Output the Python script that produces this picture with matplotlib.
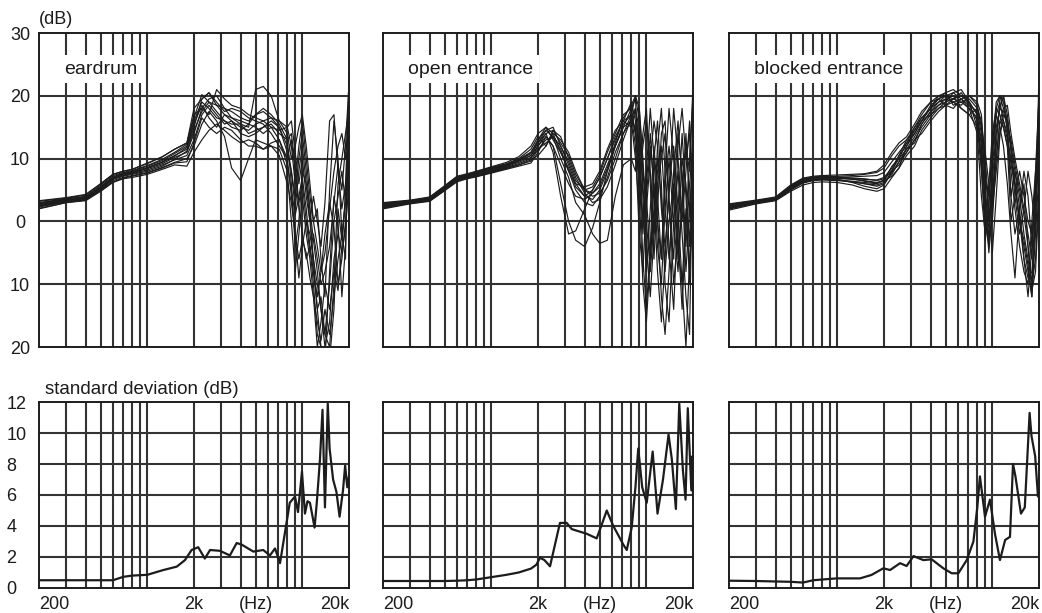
import matplotlib
matplotlib.use("Agg")
import matplotlib.pyplot as plt
from matplotlib.ticker import NullLocator

plt.rcParams["font.family"] = ["Liberation Sans", "DejaVu Sans"]

# frequency grid shared by the individual response curves (Hz)
FREQ_HZ = [200, 300, 400, 500, 600, 700, 800, 1000, 1250, 1500, 1800, 2000, 2250, 2500,
           2800, 3150, 3500, 4000, 4500, 5000, 5600, 6300, 7100, 8000, 8500, 9000, 9500,
           10000, 10600, 11200, 11800, 12500, 13200, 14000, 15000, 16000, 17000, 18000,
           19000, 20000]

# response level (dB), one list per subject
EARDRUM = [
    [2.0, 3.0, 3.3, 4.8, 6.2, 6.8, 7.0, 7.5, 8.3, 9.0, 8.8, 11.0, 13.0, 14.5, 15.5, 14.5, 13.5, 12.5, 13.0, 12.5, 11.5, 12.0, 10.5, 6.0, 3.0, -2.0, -6.0, -3.0, -5.0, -9.0, -12.0, -16.0, -19.0, -14.0, -18.0, -12.0, -6.0, -2.0, 3.0, 8.0],
    [2.5, 3.3, 3.6, 5.2, 6.8, 7.3, 7.6, 8.2, 9.0, 9.8, 10.5, 13.0, 17.0, 18.5, 17.0, 15.5, 16.0, 15.0, 14.5, 15.5, 16.0, 15.0, 13.0, 9.0, 5.0, 1.0, 4.0, 7.0, 2.0, -4.0, -8.0, -12.0, -8.0, -2.0, 3.0, -1.0, -10.0, -6.0, 0.0, 12.0],
    [2.8, 3.5, 3.8, 5.5, 7.0, 7.6, 7.9, 8.6, 9.5, 10.5, 11.5, 15.0, 19.5, 20.5, 19.0, 17.5, 18.0, 17.5, 16.5, 16.0, 15.5, 14.0, 12.0, 10.0, 13.0, 8.0, 2.0, -2.0, -6.0, -4.0, -10.0, -18.0, -20.0, -20.0, -22.0, -14.0, 2.0, -3.0, 4.0, 16.0],
    [3.0, 3.6, 4.0, 5.8, 7.3, 7.8, 8.1, 8.9, 9.9, 11.0, 12.3, 16.5, 20.2, 19.0, 18.5, 18.0, 17.5, 16.5, 16.0, 17.0, 17.5, 16.5, 15.0, 12.0, 8.0, 4.0, 10.0, 14.0, 8.0, 2.0, -3.0, -8.0, -14.0, -18.0, -10.0, 0.0, 4.0, 8.0, 3.0, 10.0],
    [3.2, 3.7, 4.2, 6.0, 7.5, 8.0, 8.3, 9.2, 10.3, 11.5, 12.5, 17.0, 18.0, 17.0, 21.0, 19.5, 18.5, 18.0, 17.0, 16.5, 16.0, 16.5, 16.0, 14.0, 10.0, 12.0, 15.0, 17.0, 12.0, 6.0, 0.0, -4.0, -8.0, -5.0, 2.0, 8.0, 12.0, 14.0, 10.0, 18.0],
    [2.3, 3.1, 3.4, 5.0, 6.5, 7.0, 7.3, 7.8, 8.6, 9.4, 10.0, 12.0, 15.5, 17.5, 16.0, 13.5, 8.5, 6.5, 10.0, 13.0, 12.5, 12.0, 11.5, 8.0, 0.0, -8.0, -2.0, 4.0, -2.0, -6.0, -12.0, -20.0, -16.0, -10.0, -14.0, -8.0, -11.0, -4.0, 4.0, 14.0],
    [2.7, 3.4, 3.7, 5.3, 6.9, 7.4, 7.7, 8.4, 9.2, 10.2, 11.0, 14.0, 18.0, 19.5, 20.0, 18.0, 16.5, 15.5, 15.0, 21.0, 21.5, 20.0, 16.0, 15.0, 16.0, 11.0, 6.0, 10.0, 4.0, 0.0, 4.0, 0.0, -4.0, 3.0, 16.0, 17.0, 8.0, 2.0, 6.0, 20.0],
    [2.1, 3.0, 3.4, 4.9, 6.3, 6.9, 7.2, 7.7, 8.5, 9.3, 9.5, 12.5, 16.5, 15.0, 14.0, 15.0, 14.5, 13.0, 12.0, 12.0, 11.5, 12.5, 13.0, 10.0, 4.0, -2.0, -9.0, -4.0, 0.0, -2.0, -6.0, -10.0, -14.0, -20.0, -16.0, -6.0, -2.0, -5.0, -1.0, 6.0],
    [2.9, 3.6, 3.9, 5.6, 7.1, 7.7, 8.0, 8.8, 9.7, 10.8, 12.0, 16.0, 19.0, 18.0, 16.5, 16.0, 15.5, 15.5, 14.0, 14.5, 15.0, 15.5, 14.0, 13.0, 14.0, 9.0, 3.0, 6.0, 0.0, -5.0, -2.0, -6.0, -10.0, -8.0, -4.0, 3.0, 9.0, 5.0, 12.0, 22.0],
    [3.3, 3.8, 4.3, 6.0, 7.5, 8.0, 8.3, 9.3, 10.3, 11.5, 12.5, 18.0, 19.5, 20.5, 18.5, 17.0, 16.5, 16.0, 15.5, 15.0, 14.0, 15.0, 14.5, 15.0, 12.0, 6.0, 12.0, 16.0, 10.0, 4.0, 0.0, 2.0, -6.0, -12.0, 5.0, 16.0, 10.0, -2.0, -6.0, 24.0],
    [2.4, 3.2, 3.5, 5.1, 6.7, 7.2, 7.5, 8.0, 8.8, 9.9, 11.2, 14.5, 17.5, 19.0, 17.5, 16.0, 15.0, 14.5, 15.5, 17.0, 18.0, 17.0, 15.5, 13.0, 6.0, -4.0, 0.0, 8.0, 6.0, 0.0, -6.0, -14.0, -20.0, -22.0, -8.0, 4.0, 0.0, -12.0, -4.0, 14.0],
    [2.6, 3.4, 3.7, 5.4, 6.9, 7.5, 7.8, 8.5, 9.4, 10.4, 11.8, 15.5, 18.5, 16.5, 15.0, 17.0, 16.0, 14.0, 13.5, 14.0, 15.0, 16.0, 15.0, 11.0, 8.0, 2.0, 8.0, 12.0, 6.0, 2.0, -8.0, -14.0, -12.0, -18.0, -20.0, -10.0, 6.0, 10.0, 14.0, 18.0],
]

OPEN_ENTRANCE = [
    [2.0, 2.8, 3.2, 4.9, 6.3, 6.8, 7.1, 7.7, 8.3, 8.8, 9.3, 11.0, 13.5, 12.0, 6.0, 0.0, -3.0, -4.0, -1.0, 3.0, 8.0, 12.0, 15.0, 16.0, 10.0, 2.0, 8.0, 4.0, -6.0, 2.0, 10.0, 4.0, -8.0, 0.0, 6.0, -4.0, -10.0, 2.0, -8.0, 6.0],
    [2.3, 3.0, 3.4, 5.1, 6.6, 7.0, 7.3, 7.9, 8.6, 9.2, 10.0, 12.0, 14.0, 11.0, 4.0, -2.0, -1.5, 2.0, 5.0, 7.0, 10.0, 13.0, 16.0, 17.0, 12.0, -2.0, -8.0, 4.0, 12.0, 6.0, -4.0, -10.0, 2.0, 10.0, 0.0, -8.0, 4.0, 14.0, 2.0, -6.0],
    [2.5, 3.1, 3.5, 5.3, 6.8, 7.2, 7.5, 8.1, 8.8, 9.6, 10.5, 12.5, 14.5, 13.5, 10.0, 7.0, 3.0, 1.0, -2.0, -3.5, -3.0, 4.0, 9.0, 10.0, 8.0, 14.0, 6.0, -4.0, -12.0, -2.0, 8.0, 12.0, 2.0, -6.0, 4.0, 14.0, 8.0, -4.0, 6.0, 12.0],
    [2.7, 3.2, 3.6, 5.5, 7.0, 7.3, 7.7, 8.4, 9.0, 9.8, 11.0, 13.0, 14.5, 15.0, 12.0, 9.0, 6.0, 4.0, 3.5, 5.0, 8.0, 12.0, 15.0, 18.0, 19.5, 8.0, -6.0, -14.0, -4.0, 10.0, 16.0, 6.0, -10.0, -16.0, 0.0, 8.0, -2.0, -12.0, -18.0, 14.0],
    [2.9, 3.3, 3.8, 5.6, 7.1, 7.5, 7.9, 8.6, 9.2, 10.0, 11.5, 13.5, 12.0, 14.0, 13.0, 11.0, 8.0, 5.0, 4.0, 4.5, 6.5, 10.0, 14.0, 17.0, 20.0, 16.0, 4.0, -8.0, 2.0, 12.0, 4.0, -6.0, 8.0, 18.0, 10.0, -2.0, -14.0, 0.0, 10.0, 20.0],
    [2.2, 2.9, 3.3, 5.0, 6.5, 6.9, 7.2, 7.8, 8.5, 9.0, 9.8, 10.5, 12.0, 14.5, 13.5, 10.0, 7.0, 4.5, 3.0, 3.5, 5.5, 9.0, 13.0, 16.5, 18.0, 12.0, 0.0, 6.0, 14.0, 4.0, -8.0, -16.0, -6.0, 6.0, 12.0, 2.0, -10.0, -20.0, -6.0, 4.0],
    [2.6, 3.1, 3.5, 5.4, 6.9, 7.2, 7.6, 8.2, 8.9, 9.6, 10.5, 12.0, 13.5, 12.0, 9.0, 6.0, 4.0, 3.5, 4.5, 6.0, 9.0, 12.0, 15.5, 17.0, 14.0, 6.0, 12.0, 16.0, 8.0, -2.0, 2.0, 14.0, 16.0, 4.0, -10.0, -2.0, 10.0, 6.0, -4.0, 18.0],
    [3.0, 3.4, 3.9, 5.7, 7.2, 7.6, 8.0, 8.7, 9.4, 10.3, 12.0, 14.0, 15.0, 13.0, 11.0, 8.5, 5.5, 4.0, 5.0, 7.0, 10.0, 13.5, 16.0, 15.0, 18.0, 10.0, -2.0, 8.0, 18.0, 10.0, 0.0, -6.0, 6.0, 12.0, 4.0, -6.0, 2.0, 12.0, 8.0, 22.0],
    [2.4, 3.0, 3.4, 5.2, 6.7, 7.1, 7.4, 8.0, 8.7, 9.4, 10.2, 11.5, 13.0, 13.5, 11.5, 8.0, 5.0, 3.0, 2.5, 4.0, 7.0, 11.0, 14.0, 16.0, 15.0, 4.0, -10.0, -16.0, -6.0, 6.0, 0.0, -12.0, -18.0, -8.0, 8.0, 16.0, 6.0, -8.0, 2.0, 10.0],
    [2.8, 3.3, 3.7, 5.5, 7.0, 7.4, 7.8, 8.5, 9.1, 9.9, 11.0, 12.5, 14.0, 14.5, 12.5, 10.5, 7.5, 5.0, 4.5, 5.5, 8.5, 12.5, 16.5, 18.5, 20.0, 18.0, 8.0, 2.0, 10.0, 16.0, 12.0, 2.0, -4.0, 4.0, 18.0, 10.0, 0.0, 8.0, 16.0, 4.0],
    [2.1, 2.9, 3.3, 5.0, 6.5, 6.9, 7.2, 7.8, 8.4, 9.0, 9.6, 11.5, 12.5, 13.5, 12.0, 9.5, 6.5, 5.0, 5.5, 7.5, 11.0, 14.0, 17.0, 18.0, 14.0, 18.0, 10.0, 0.0, -8.0, 0.0, 12.0, 18.0, 8.0, -4.0, -14.0, 2.0, 14.0, 4.0, -10.0, 10.0],
    [2.5, 3.2, 3.6, 5.3, 6.8, 7.3, 7.7, 8.3, 9.0, 9.7, 10.8, 13.0, 15.0, 14.0, 11.0, 8.0, 6.0, 5.5, 6.0, 8.0, 11.5, 14.5, 16.0, 19.0, 16.0, 6.0, 14.0, 18.0, 6.0, -6.0, 6.0, 10.0, 14.0, 2.0, -6.0, 12.0, 18.0, 10.0, 14.0, 0.0],
]

BLOCKED_ENTRANCE = [
    [1.8, 2.8, 3.3, 4.8, 5.8, 6.2, 6.3, 6.2, 5.8, 5.2, 4.8, 5.2, 7.0, 8.5, 10.5, 12.0, 14.5, 16.5, 18.0, 19.0, 19.5, 19.0, 18.0, 14.0, 4.0, -2.0, 6.0, 14.0, 18.0, 17.0, 15.0, 12.0, 8.0, 2.0, -4.0, -8.0, -10.0, 0.0, 8.0, 14.0],
    [2.0, 2.9, 3.4, 5.0, 6.1, 6.5, 6.6, 6.5, 6.3, 6.0, 5.8, 6.2, 7.5, 9.5, 11.5, 13.5, 15.5, 17.5, 19.0, 20.0, 20.5, 19.5, 18.5, 16.0, 10.0, 0.0, -4.0, 8.0, 17.0, 19.0, 16.0, 13.0, 10.0, 6.0, 0.0, -4.0, -8.0, -12.0, 2.0, 10.0],
    [2.2, 3.0, 3.5, 5.2, 6.3, 6.7, 6.8, 6.8, 6.8, 6.7, 6.6, 7.0, 8.5, 10.5, 12.0, 14.0, 16.0, 18.5, 19.5, 20.0, 19.5, 20.0, 19.0, 17.0, 12.0, 2.0, -1.0, 4.0, 12.0, 19.5, 20.0, 17.0, 12.0, 8.0, 4.0, -2.0, -6.0, -10.0, 4.0, 18.0],
    [2.4, 3.1, 3.6, 5.4, 6.5, 6.9, 7.0, 7.0, 7.1, 7.2, 7.3, 7.8, 9.5, 11.0, 12.5, 15.0, 17.0, 19.0, 19.5, 18.5, 19.5, 20.5, 18.5, 17.5, 14.0, 6.0, -3.0, 0.0, 10.0, 16.0, 18.0, 18.5, 14.0, 10.0, 6.0, 2.0, -2.0, -6.0, 8.0, 20.0],
    [2.6, 3.2, 3.7, 5.6, 6.7, 7.0, 7.1, 7.2, 7.3, 7.5, 7.8, 8.5, 10.5, 12.0, 13.0, 14.5, 16.0, 18.0, 20.0, 20.5, 18.5, 19.0, 19.5, 18.0, 16.0, 10.0, 2.0, -5.0, 4.0, 14.0, 17.0, 16.0, 4.0, 8.0, 2.0, -6.0, -12.0, -4.0, 6.0, 12.0],
    [2.7, 3.3, 3.8, 5.7, 6.8, 7.1, 7.2, 7.1, 6.9, 6.8, 6.5, 6.8, 8.0, 9.0, 11.0, 13.0, 15.0, 17.0, 18.5, 19.0, 20.5, 21.0, 19.0, 15.0, 8.0, 0.0, -2.0, 10.0, 18.0, 20.0, 19.0, 16.0, 11.0, 4.0, -2.0, 2.0, 8.0, 4.0, -2.0, 24.0],
    [2.1, 2.9, 3.4, 5.1, 6.2, 6.6, 6.7, 6.6, 6.4, 6.2, 6.0, 6.5, 8.8, 10.0, 11.5, 12.5, 15.5, 17.5, 18.5, 19.5, 20.0, 18.0, 17.0, 15.0, 11.0, 4.0, 0.0, 6.0, 15.0, 18.0, 20.0, 14.0, 9.0, 6.0, 0.0, -6.0, -9.0, -8.0, 0.0, 16.0],
    [2.5, 3.2, 3.6, 5.5, 6.6, 6.9, 7.0, 6.9, 6.7, 6.5, 6.2, 6.5, 7.2, 8.5, 12.0, 14.5, 16.5, 18.0, 19.0, 19.5, 19.0, 18.5, 20.0, 19.0, 17.0, 8.0, 1.0, 3.0, 10.0, 16.0, 15.0, 12.0, 0.0, 4.0, 8.0, 4.0, 0.0, -2.0, 4.0, 10.0],
    [2.3, 3.0, 3.5, 5.3, 6.4, 6.8, 6.9, 6.7, 6.2, 5.6, 5.2, 5.8, 7.8, 9.5, 11.0, 13.0, 14.0, 16.0, 17.5, 18.5, 19.0, 19.5, 18.0, 16.5, 13.0, 3.0, -5.0, 2.0, 14.0, 18.0, 17.5, 15.0, 13.0, 9.0, 5.0, 1.0, -4.0, -10.0, -6.0, 6.0],
    [2.8, 3.4, 3.9, 5.8, 6.9, 7.2, 7.3, 7.4, 7.5, 7.6, 8.0, 9.0, 11.0, 12.5, 13.5, 15.5, 17.5, 19.0, 20.0, 20.0, 19.0, 18.0, 17.0, 18.0, 15.0, 7.0, 4.0, 12.0, 19.0, 20.0, 18.0, 16.0, 12.0, 6.0, 0.0, -3.0, -7.0, -12.0, -2.0, 8.0],
    [2.0, 3.0, 3.4, 5.1, 6.2, 6.6, 6.7, 6.6, 6.3, 6.0, 5.6, 6.0, 8.0, 10.5, 13.0, 15.0, 16.5, 18.0, 19.5, 20.5, 21.0, 20.0, 19.0, 17.0, 9.0, -3.0, 2.0, 12.0, 17.0, 15.0, 12.0, 6.0, -2.0, -9.0, 2.0, 8.0, 4.0, -4.0, 6.0, 20.0],
    [2.4, 3.1, 3.6, 5.4, 6.5, 6.9, 7.1, 7.0, 6.8, 6.4, 6.1, 6.6, 8.2, 10.0, 12.5, 14.0, 16.0, 17.0, 18.0, 18.5, 18.0, 19.5, 20.0, 18.5, 15.0, 11.0, 6.0, 2.0, 8.0, 14.0, 16.0, 14.0, 4.0, -2.0, 2.0, 6.0, -4.0, -11.0, -8.0, 4.0],
]

# standard deviation across subjects (dB)
SD_EARDRUM_HZ = [200, 300, 400, 500, 600, 700, 800, 1000, 1260, 1550, 1750, 1930, 2130, 2350,
                 2540, 2940, 3410, 3770, 4060, 4830, 5600, 6180, 6670, 7180, 8300, 8970, 9380,
                 9950, 10400, 10800, 11200, 11700, 12000, 12400, 13000, 13500, 14000, 14600,
                 15000, 15800, 16600, 17400, 18300, 18900, 19500, 20000]
SD_EARDRUM = [0.5, 0.5, 0.5, 0.5, 0.5, 0.72, 0.8, 0.85, 1.15, 1.38, 1.8, 2.45, 2.63, 1.9,
              2.45, 2.4, 2.1, 2.9, 2.8, 2.35, 2.45, 2.1, 2.55, 1.6, 5.5, 5.9, 4.9,
              7.5, 4.8, 5.6, 5.5, 4.5, 3.9, 5.5, 8.3, 11.5, 5.2, 11.9,
              9.0, 7.0, 6.2, 4.6, 6.3, 7.9, 6.5, 7.2]

SD_OPEN_HZ = [200, 300, 400, 500, 600, 700, 800, 1000, 1250, 1500, 1800, 1950, 2060, 2200,
              2390, 2600, 2770, 3060, 3300, 3550, 4120, 4780, 5200, 5550, 6120, 7100, 7470,
              8040, 8500, 8860, 9400, 10050, 10980, 11800, 12800, 13900, 14600, 15500,
              16300, 17200, 17900, 18500, 19500, 19800, 20000]
SD_OPEN = [0.45, 0.45, 0.45, 0.45, 0.47, 0.5, 0.55, 0.7, 0.85, 1.0, 1.25, 1.5, 1.95, 1.8,
           1.4, 3.0, 4.2, 4.2, 3.8, 3.7, 3.5, 3.2, 4.2, 5.0, 4.0, 2.8, 2.45,
           3.9, 6.5, 9.0, 6.5, 5.5, 8.8, 4.8, 7.0, 9.9, 8.3, 5.1,
           11.9, 7.6, 5.7, 11.6, 6.3, 8.5, 6.0]

SD_BLOCKED_HZ = [200, 300, 400, 500, 600, 700, 990, 1400, 1660, 1980, 2190, 2540, 2800, 3100,
                 3590, 4060, 4830, 5470, 6040, 6840, 7550, 8000, 8320, 8970, 9660, 10400,
                 11200, 12100, 13000, 13600, 14100, 15300, 16200, 17400, 17900, 18900,
                 19700, 20000]
SD_BLOCKED = [0.47, 0.45, 0.42, 0.4, 0.35, 0.5, 0.62, 0.62, 0.84, 1.27, 1.16, 1.6, 1.42, 2.06,
              1.8, 1.85, 1.27, 0.95, 0.95, 1.8, 3.0, 5.2, 7.2, 4.6, 5.7, 3.5,
              1.8, 3.1, 3.3, 8.0, 7.2, 4.8, 5.2, 11.3, 9.8, 8.5,
              5.9, 6.0]

PANEL_TITLES = ["eardrum", "open entrance", "blocked entrance"]
GRID_HZ = [300, 400, 500, 600, 700, 800, 900, 1000,
           2000, 3000, 4000, 5000, 6000, 7000, 8000, 9000, 10000]
LEVEL_TICKS = [-20, -10, 0, 10, 20, 30]
LEVEL_LABELS = ["20", "10", "0", "10", "20", "30"]
SD_TICKS = [0, 2, 4, 6, 8, 10, 12]
FREQ_TICKS = [200, 2000, 5000, 20000]
FREQ_LABELS = ["200", "2k", "(Hz)", "20k"]

INK = "#1c1c1c"
GRID = "#333333"


def style_axes(ax, yticks):
    ax.set_xscale("log")
    ax.set_xlim(200, 20000)
    ax.xaxis.set_minor_locator(NullLocator())
    ax.set_ylim(yticks[0], yticks[-1])
    ax.set_yticks(yticks)
    for f in GRID_HZ:
        ax.axvline(f, color=GRID, lw=1.5, zorder=1)
    for y in yticks[1:-1]:
        ax.axhline(y, color=GRID, lw=1.5, zorder=1)
    for sp in ax.spines.values():
        sp.set_color(INK)
        sp.set_linewidth(1.4)
    ax.tick_params(length=0, labelsize=13, colors=INK)


def main():
    fig = plt.figure(figsize=(10.42, 6.13), dpi=100)
    lefts = [0.0374, 0.3676, 0.6996]
    width = 0.2975
    top_sets = [EARDRUM, OPEN_ENTRANCE, BLOCKED_ENTRANCE]
    sd_sets = [(SD_EARDRUM_HZ, SD_EARDRUM), (SD_OPEN_HZ, SD_OPEN), (SD_BLOCKED_HZ, SD_BLOCKED)]

    for i in range(3):
        ax = fig.add_axes([lefts[i], 0.4339, width, 0.5122])
        style_axes(ax, LEVEL_TICKS)
        for curve in top_sets[i]:
            ax.plot(FREQ_HZ, curve, color=INK, lw=0.85, zorder=2)
        ax.set_xticks(FREQ_TICKS)
        ax.set_xticklabels([])
        ax.text(0.08, 0.885, PANEL_TITLES[i], transform=ax.transAxes, fontsize=14,
                ha="left", va="center", color=INK, zorder=5,
                bbox=dict(facecolor="white", edgecolor="none", pad=4))
        if i == 0:
            ax.set_yticklabels(LEVEL_LABELS)
            ax.tick_params(axis="y", pad=13.7)
            for lab in ax.get_yticklabels():
                lab.set_horizontalalignment("center")
            ax.text(0.0, 1.015, "(dB)", transform=ax.transAxes, fontsize=13,
                    ha="left", va="bottom", color=INK)
        else:
            ax.tick_params(axis="y", labelleft=False)

        bx = fig.add_axes([lefts[i], 0.0408, width, 0.3034])
        style_axes(bx, SD_TICKS)
        hz, sd = sd_sets[i]
        bx.plot(hz, sd, color=INK, lw=1.6, zorder=2)
        bx.set_xticks(FREQ_TICKS)
        bx.set_xticklabels(FREQ_LABELS)
        bx.tick_params(axis="x", pad=6)
        labs = bx.get_xticklabels()
        labs[0].set_horizontalalignment("left")
        labs[-1].set_horizontalalignment("right")
        if i == 0:
            bx.set_yticklabels([str(t) for t in SD_TICKS])
            bx.tick_params(axis="y", pad=23.5)
            for lab in bx.get_yticklabels():
                lab.set_horizontalalignment("left")
            bx.text(0.02, 1.02, "standard deviation (dB)", transform=bx.transAxes,
                    fontsize=13.5, ha="left", va="bottom", color=INK)
        else:
            bx.tick_params(axis="y", labelleft=False)

    fig.savefig("out.png", dpi=100, facecolor="white")
    plt.close(fig)


if __name__ == "__main__":
    main()
